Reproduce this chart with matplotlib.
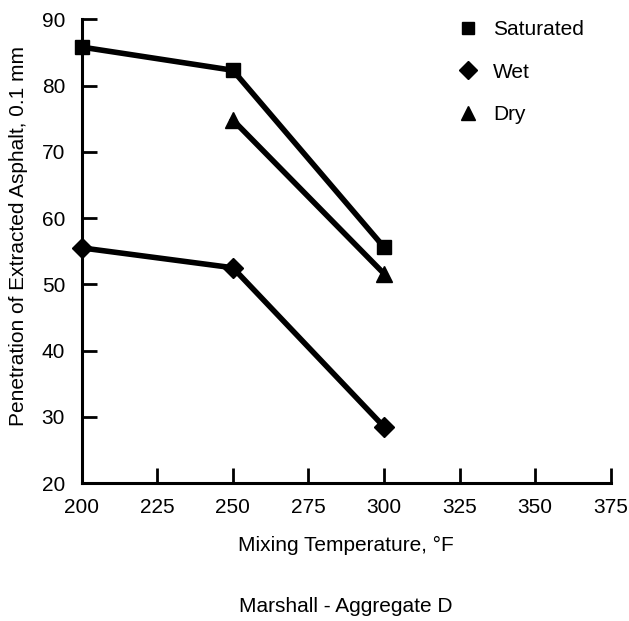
import matplotlib
matplotlib.use("Agg")
import matplotlib.pyplot as plt
from matplotlib.lines import Line2D
from matplotlib import font_manager

# ------------------- Data -------------------
temps_sat = [200, 250, 300]
pen_sat = [85.8, 82.3, 55.6]

temps_wet = [200, 250, 300]
pen_wet = [55.5, 52.5, 28.5]

temps_dry = [250, 300]
pen_dry = [74.8, 51.6]

x_ticks = [200, 225, 250, 275, 300, 325, 350, 375]
y_ticks = [20, 30, 40, 50, 60, 70, 80, 90]

# ------------------- Style -------------------
names = {f.name for f in font_manager.fontManager.ttflist}
font = "Liberation Sans Narrow" if "Liberation Sans Narrow" in names else "Liberation Sans"
plt.rcParams['font.family'] = [font, 'DejaVu Sans']
fs = 15

fig = plt.figure(figsize=(6.29, 6.21), dpi=100)
ax = fig.add_axes([0.130, 0.222, 0.841, 0.747])

lw = 4.0
ms = 10.5
ax.plot(temps_sat, pen_sat, color='black', lw=lw, marker='s', ms=ms, clip_on=False, zorder=3)
ax.plot(temps_wet, pen_wet, color='black', lw=lw, marker='D', ms=ms * 0.95, clip_on=False, zorder=3)
ax.plot(temps_dry, pen_dry, color='black', lw=lw, marker='^', ms=ms * 1.1, clip_on=False, zorder=3)

ax.set_xlim(200, 375)
ax.set_ylim(20, 90)
ax.set_xticks(x_ticks)
ax.set_yticks(y_ticks)

for side in ['top', 'right']:
    ax.spines[side].set_visible(False)
for side in ['left', 'bottom']:
    ax.spines[side].set_linewidth(2.2)

ax.tick_params(axis='both', direction='in', length=11, width=2.0, labelsize=fs)
ax.tick_params(axis='x', pad=11)
ax.tick_params(axis='y', pad=12)

ax.set_xlabel("Mixing Temperature, °F", fontsize=fs, labelpad=13)
fig.text(19 / 629, 1 - 236 / 621, "Penetration of Extracted Asphalt, 0.1 mm",
         rotation=90, fontsize=fs, ha='center', va='center')
fig.text(0.55, 1 - 606 / 621, "Marshall - Aggregate D", fontsize=fs, ha='center', va='center')

handles = [
    Line2D([], [], color='black', marker='s', ls='none', ms=8),
    Line2D([], [], color='black', marker='D', ls='none', ms=9),
    Line2D([], [], color='black', marker='^', ls='none', ms=10),
]
ax.legend(handles, ["Saturated", "Wet", "Dry"], loc='upper left',
          bbox_to_anchor=(0.675, 1.038), frameon=False, fontsize=fs,
          handlelength=1.0, handletextpad=0.7, labelspacing=1.12)

fig.savefig("out.png", dpi=100)
